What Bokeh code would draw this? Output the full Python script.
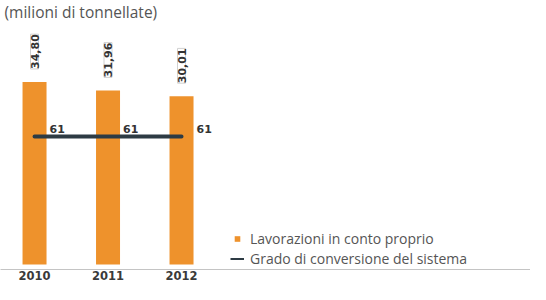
import math
from bokeh.plotting import figure
from bokeh.models import (Range1d, FixedTicker, ColumnDataSource, LabelSet,
                          Legend, LegendItem, Label)
from bokeh.core.properties import value
from bokeh.embed import file_html
from bokeh.resources import INLINE

# ---- data ----
years = [2010, 2011, 2012]
lavorazioni = [34.80, 31.96, 30.01]
lavorazioni_labels = ["34,80", "31,96", "30,01"]
grado = [61, 61, 61]
grado_labels = ["61", "61", "61"]
unit_label = "(milioni di tonnellate)"
legend_labels = ["Lavorazioni in conto proprio", "Grado di conversione del sistema"]

ORANGE = "#EE922C"
DARK = "#2d3b44"
BAR_BASE = -26.74

p = figure(width=530, height=284, output_backend="svg", toolbar_location=None,
           x_range=Range1d(2009.537, 2016.748), y_range=Range1d(-28.43, 62.27),
           y_axis_location=None,
           min_border_left=0, min_border_right=0, min_border_top=0, min_border_bottom=15)
p.extra_y_ranges = {"pct": Range1d(0, 123.4)}
p.grid.visible = False
p.outline_line_color = None

ax = p.xaxis[0]
ax.ticker = FixedTicker(ticks=years)
ax.major_tick_line_color = None
ax.minor_tick_line_color = None
ax.major_tick_out = 0
ax.major_tick_in = 0
ax.minor_tick_out = 0
ax.minor_tick_in = 0
ax.axis_label_standoff = 0
ax.axis_line_color = "#c4c4c4"
ax.axis_line_width = 1
ax.major_label_standoff = 1
ax.major_label_text_font = "DejaVu Sans"
ax.major_label_text_font_style = "bold"
ax.major_label_text_font_size = "11.5px"
ax.major_label_text_color = "#3a3a3a"

src = ColumnDataSource(dict(year=years, val=lavorazioni, lab=lavorazioni_labels,
                            g=grado, gl=grado_labels))

p.vbar(x="year", top="val", bottom=BAR_BASE, width=0.3265, source=src,
       fill_color=ORANGE, line_color=None)

p.add_layout(LabelSet(x="year", y="val", text="lab", source=src,
                      angle=math.pi / 2, text_align="left", text_baseline="middle",
                      y_offset=13, text_font=value("DejaVu Sans"), text_font_style="bold",
                      text_font_size="11px", text_color="#333333",
                      border_line_color="#d0d0d0", border_line_width=1))

p.line(x="year", y="g", source=src, y_range_name="pct", line_width=4,
       line_color=DARK, line_cap="round")

p.add_layout(LabelSet(x="year", y="g", text="gl", source=src, y_range_name="pct",
                      text_align="left", text_baseline="middle", x_offset=15, y_offset=8,
                      text_font=value("DejaVu Sans"), text_font_style="bold",
                      text_font_size="11px", text_color="#333333"))

nan = float("nan")
dummy = ColumnDataSource(dict(x=[nan], y=[nan]))
r_sq = p.scatter(x="x", y="y", source=dummy, marker="square", size=6,
                 fill_color=ORANGE, line_color=None)
r_ln = p.line(x="x", y="y", source=dummy, line_color=DARK, line_width=2)

legend = Legend(items=[LegendItem(label=legend_labels[0], renderers=[r_sq]),
                       LegendItem(label=legend_labels[1], renderers=[r_ln])],
                location=(230, 1), glyph_width=14, glyph_height=19, label_standoff=6,
                padding=0, margin=0, spacing=1, border_line_color=None,
                background_fill_alpha=0, label_text_font="Open Sans",
                label_text_font_size="14px", label_text_color="#555555")
p.add_layout(legend)

p.add_layout(Label(x=4, y=269, x_units="screen", y_units="screen", text=unit_label,
                   text_baseline="top", text_font="Open Sans",
                   text_font_size="15.5px", text_color="#555555"))

open("out.html", "w").write(file_html(p, INLINE))
